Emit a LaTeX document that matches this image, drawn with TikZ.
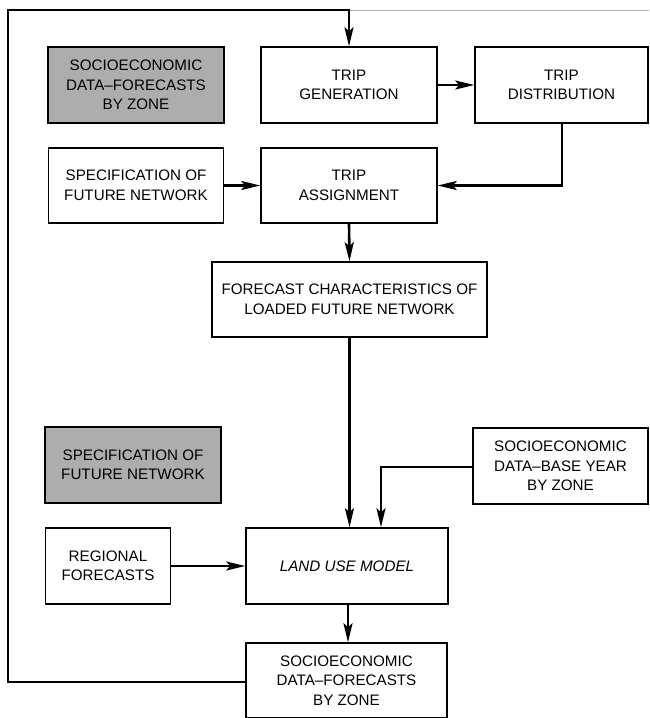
\documentclass[tikz,border=0pt]{standalone}
\usepackage{fontspec}
\setmainfont{Liberation Sans}
\usetikzlibrary{arrows.meta}
\begin{document}
\begin{tikzpicture}[x=1pt,y=-1pt,
  box/.style={draw=black,line width=1.5pt,fill=white,align=center,inner sep=0pt,
    font=\fontsize{15.2}{19.5}\selectfont},
  shaded/.style={box,fill=black!32},
  conn/.style={line width=2.6pt,-{Stealth[length=19pt,width=9pt,inset=4pt]}},
  plain/.style={line width=2.6pt}]
\useasboundingbox (0,0) rectangle (649,718);
% faint top edge
\draw[black!30,line width=1pt] (349,10) -- (649,10);
% nodes
\node[shaded,minimum width=176pt,minimum height=76pt] (sf1) at (136,85) {SOCIOECONOMIC\\DATA–FORECASTS\\BY ZONE};
\node[box,minimum width=176pt,minimum height=76pt] (tg) at (349,85) {TRIP\\GENERATION};
\node[box,minimum width=173pt,minimum height=76pt] (td) at (561.5,85) {TRIP\\DISTRIBUTION};
\node[box,minimum width=175pt,minimum height=75pt] (spec1) at (136,185.5) {SPECIFICATION OF\\FUTURE NETWORK};
\node[box,minimum width=176pt,minimum height=75pt] (ta) at (349,185.5) {TRIP\\ASSIGNMENT};
\node[box,minimum width=275pt,minimum height=75pt] (fc) at (349.5,299.5) {FORECAST CHARACTERISTICS OF\\LOADED FUTURE NETWORK};
\node[shaded,minimum width=176pt,minimum height=76pt] (spec2) at (133,465) {SPECIFICATION OF\\FUTURE NETWORK};
\node[box,minimum width=175pt,minimum height=76pt] (sb) at (560.5,466) {SOCIOECONOMIC\\DATA–BASE YEAR\\BY ZONE};
\node[box,minimum width=202pt,minimum height=76pt] (lum) at (347,566) {\itshape LAND USE MODEL};
\node[box,minimum width=125pt,minimum height=76pt] (reg) at (108,566) {REGIONAL\\FORECASTS};
\node[box,minimum width=201pt,minimum height=75pt] (sf2) at (346.5,680.5) {SOCIOECONOMIC\\DATA–FORECASTS\\BY ZONE};
% helper coordinates
\coordinate (tdout) at (562,123);
\coordinate (sbturn) at (381,467);
\coordinate (fbl) at (8,682);
\coordinate (ftl) at (8,10);
\coordinate (ftr) at (349,10);
% connectors
\draw[conn] (tg.east) -- (td.west);
\draw[conn] (tdout) |- (ta.east);
\draw[conn] (spec1.east) -- (ta.west);
\draw[conn] (ta.south) -- (fc.north);
\draw[conn] (fc.south) -- (fc.south |- lum.north);
\draw[conn] (sb.west |- sbturn) -- (sbturn) -- (sbturn |- lum.north);
\draw[conn] (reg.east) -- (reg.east -| lum.west);
\draw[conn] (lum.south -| 348,0) -- (348,0 |- sf2.north);
\draw[conn] (sf2.west |- fbl) -- (fbl) -- (ftl) -- (ftr) -- (tg.north);
\end{tikzpicture}
\end{document}
